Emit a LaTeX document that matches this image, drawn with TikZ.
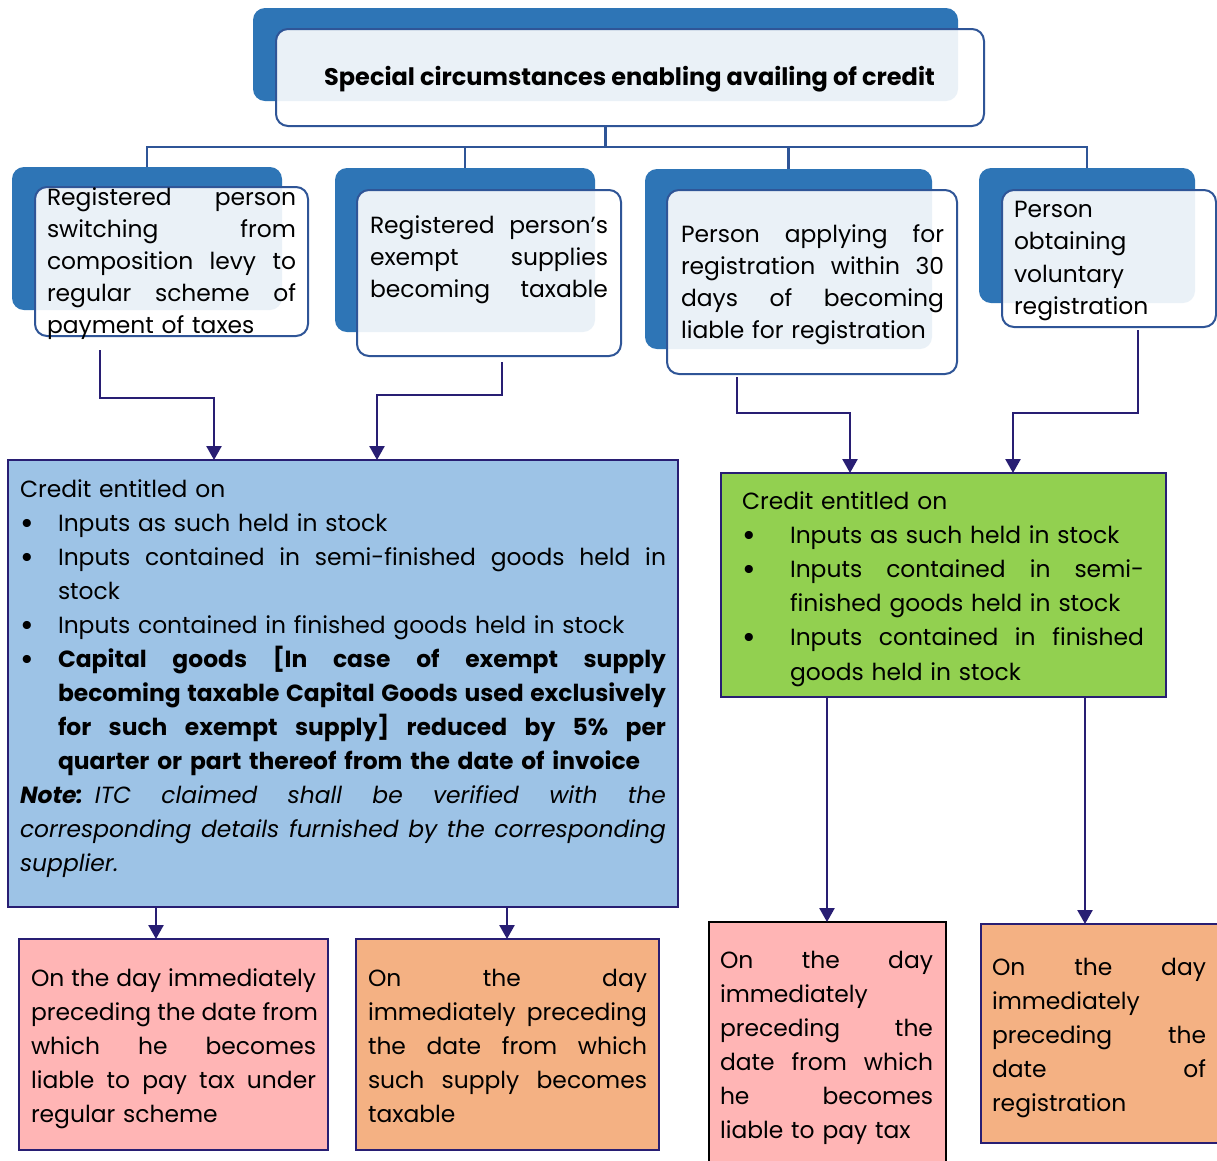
\documentclass[tikz,border=0pt]{standalone}
\usepackage{fontspec}
\setmainfont{Poppins}
\usetikzlibrary{calc,arrows.meta}
\definecolor{backblue}{HTML}{2E75B6}
\definecolor{frontline}{HTML}{2F5597}
\definecolor{navy}{RGB}{40,30,115}
\definecolor{boxblue}{HTML}{9DC3E6}
\definecolor{boxgreen}{HTML}{92D050}
\definecolor{boxpink}{HTML}{FFB5B5}
\definecolor{boxorange}{HTML}{F4B183}
\newcommand\bigdot{\raisebox{-3pt}{\fontsize{33}{33}\selectfont\textbullet}}
\newcommand\jl[1]{\noindent\hbox to \hsize{\spaceskip=\fontdimen2\font plus 1fil\relax #1}}
\newcommand\bj[3]{\noindent\hbox to \hsize{\hbox to #1{\hspace{#2}\bigdot\hfil}\hbox to \dimexpr\hsize-#1\relax{\spaceskip=\fontdimen2\font plus 1fil\relax #3}}}
\newcommand\bn[3]{\noindent\hbox to \hsize{\hbox to #1{\hspace{#2}\bigdot\hfil}#3\hfil}}
\newcommand\cj[2]{\noindent\hbox to \hsize{\hspace*{#1}\hbox to \dimexpr\hsize-#1\relax{\spaceskip=\fontdimen2\font plus 1fil\relax #2}}}
\newcommand\cn[2]{\noindent\hbox to \hsize{\hspace*{#1}#2\hfil}}
\begin{document}
\begin{tikzpicture}[x=1pt,y=-1pt,
  shp/.style={inner sep=0pt,outer sep=0pt,anchor=north west},
  backbox/.style={shp,fill=backblue,rounded corners=12pt},
  frontbox/.style={shp,draw=frontline,line width=2pt,fill=white,fill opacity=0.9,rounded corners=12pt},
  contentbox/.style={shp,draw=navy,line width=2.5pt},
  txt/.style={inner sep=0pt,outer sep=0pt,anchor=base west,align=left,font=\fontsize{23.4}{32}\selectfont},
  txtb/.style={txt,font=\fontsize{23.4}{34}\selectfont},
  tree/.style={draw=frontline,line width=2.2pt},
  arr/.style={draw=navy,line width=2.5pt,-{Triangle[length=14pt,width=15pt]}}]
\useasboundingbox (0,0) rectangle (1217,1160);
\fill[white] (0,0) rectangle (1217,1160);

% title
\node[backbox,minimum width=705pt,minimum height=93pt] (titleback) at (253,8) {};
\node[frontbox,minimum width=708pt,minimum height=97pt] (title) at (276,29) {};
\node[inner sep=0pt,anchor=base,font=\fontsize{24}{28}\selectfont\bfseries] (titletext) at (629.5,85) {Special circumstances enabling availing of credit};

% top boxes
\node[backbox,minimum width=270pt,minimum height=143pt] (b1back) at (12,167) {};
\node[frontbox,minimum width=273pt,minimum height=149pt] (b1) at (35,187) {};
\node[backbox,minimum width=260pt,minimum height=164pt] (b2back) at (335,168) {};
\node[frontbox,minimum width=264pt,minimum height=166pt] (b2) at (357,190) {};
\node[backbox,minimum width=287pt,minimum height=180pt] (b3back) at (645,169) {};
\node[frontbox,minimum width=290pt,minimum height=184pt] (b3) at (667,190) {};
\node[backbox,minimum width=216pt,minimum height=135pt] (b4back) at (979,168) {};
\node[frontbox,minimum width=214pt,minimum height=137pt] (b4) at (1002,190) {};

\node[txt,text width=249pt] (t1) at (47,205) {\jl{Registered person}\\\jl{switching from}\\\jl{composition levy to}\\\jl{regular scheme of}\\payment of taxes};
\node[txt,text width=238pt] (t2) at (370,233) {\jl{Registered person's}\\\jl{exempt supplies}\\\jl{becoming taxable}};
\node[txt,text width=263pt] (t3) at (681,242) {\jl{Person applying for}\\\jl{registration within 30}\\\jl{days of becoming}\\liable for registration};
\node[txt,text width=195pt,font=\fontsize{23.4}{32.6}\selectfont] (t4) at (1014,217) {Person\\obtaining\\voluntary\\registration};

% tree connectors
\draw[tree] (titleback.south |- title.south) -- ++(0,21) coordinate (bus);
\draw[tree] (bus) -| (b1back.north);
\draw[tree] (bus) -| (b2back.north);
\draw[tree] (bus) -| (b3back.north);
\draw[tree] (bus) -| (b4back.north);

% middle boxes
\node[contentbox,fill=boxblue,minimum width=670pt,minimum height=447pt] (blue) at (8,460) {};
\node[contentbox,fill=boxgreen,minimum width=445pt,minimum height=224pt] (green) at (721,473) {};

\node[txtb,text width=646pt] (tblue) at (20,497) {Credit entitled on\\
\bn{38pt}{0pt}{Inputs as such held in stock}\\
\bj{38pt}{0pt}{Inputs contained in semi-finished goods held in}\\
\cn{38pt}{stock}\\
\bn{38pt}{0pt}{Inputs contained in finished goods held in stock}\\
\bj{38pt}{0pt}{\bfseries Capital goods [In case of exempt supply}\\
\cj{38pt}{\bfseries becoming taxable Capital Goods used exclusively}\\
\cj{38pt}{\bfseries for such exempt supply] reduced by 5\% per}\\
\cn{38pt}{\bfseries quarter or part thereof from the date of invoice}\\
\jl{\textbf{\textit{Note:}} \itshape ITC claimed shall be verified with the}\\
\jl{\itshape corresponding details furnished by the corresponding}\\
\textit{supplier.}};

\node[txtb,text width=402pt,font=\fontsize{23.4}{34.2}\selectfont] (tgreen) at (742,509) {Credit entitled on\\
\bn{48pt}{0pt}{Inputs as such held in stock}\\
\bj{48pt}{0pt}{Inputs contained in semi-}\\
\cn{48pt}{finished goods held in stock}\\
\bj{48pt}{0pt}{Inputs contained in finished}\\
\cn{48pt}{goods held in stock}};

% arrows top -> middle
\draw[arr] ($(b1.south)+(-71.5,14)$) -- ++(0,48) -| ($(blue.north west)+(206,0)$);
\draw[arr] ($(b2.south)+(13,6)$) -- ++(0,33) -| ($(blue.north west)+(369,0)$);
\draw[arr] ($(b3.south)+(-75,3)$) -- ++(0,36) -| ($(green.north west)+(129,0)$);
\draw[arr] ($(b4.south)+(29,3)$) -- ++(0,83) -| ($(green.north west)+(292,0)$);

% bottom boxes
\node[contentbox,fill=boxpink,minimum width=309pt,minimum height=211pt] (p1) at (19,939) {};
\node[contentbox,fill=boxorange,minimum width=303pt,minimum height=211pt] (o1) at (356,939) {};
\node[contentbox,draw=black,fill=boxpink,minimum width=237pt,minimum height=245pt] (p2) at (709,922) {};
\node[contentbox,fill=boxorange,minimum width=242pt,minimum height=219pt] (o2) at (981,924) {};

\node[txtb,text width=285pt] (tp1) at (31,986) {\jl{On the day immediately}\\\jl{preceding the date from}\\\jl{which he becomes}\\\jl{liable to pay tax under}\\regular scheme};
\node[txtb,text width=279pt] (to1) at (368,986) {\jl{On the day}\\\jl{immediately preceding}\\\jl{the date from which}\\\jl{such supply becomes}\\taxable};
\node[txtb,text width=213pt] (tp2) at (720,968) {\jl{On the day}\\immediately\\\jl{preceding the}\\\jl{date from which}\\\jl{he becomes}\\liable to pay tax};
\node[txtb,text width=214pt] (to2) at (992,975) {\jl{On the day}\\immediately\\\jl{preceding the}\\\jl{date of}\\registration};

% arrows middle -> bottom
\draw[arr] ($(blue.south west)+(148,0)$) coordinate (s1) -- (s1 |- p1.north);
\draw[arr] ($(blue.south west)+(499,0)$) coordinate (s2) -- (s2 |- o1.north);
\draw[arr] ($(green.south west)+(106,0)$) coordinate (s3) -- (s3 |- p2.north);
\draw[arr] ($(green.south west)+(364,0)$) coordinate (s4) -- (s4 |- o2.north);
\end{tikzpicture}
\end{document}
